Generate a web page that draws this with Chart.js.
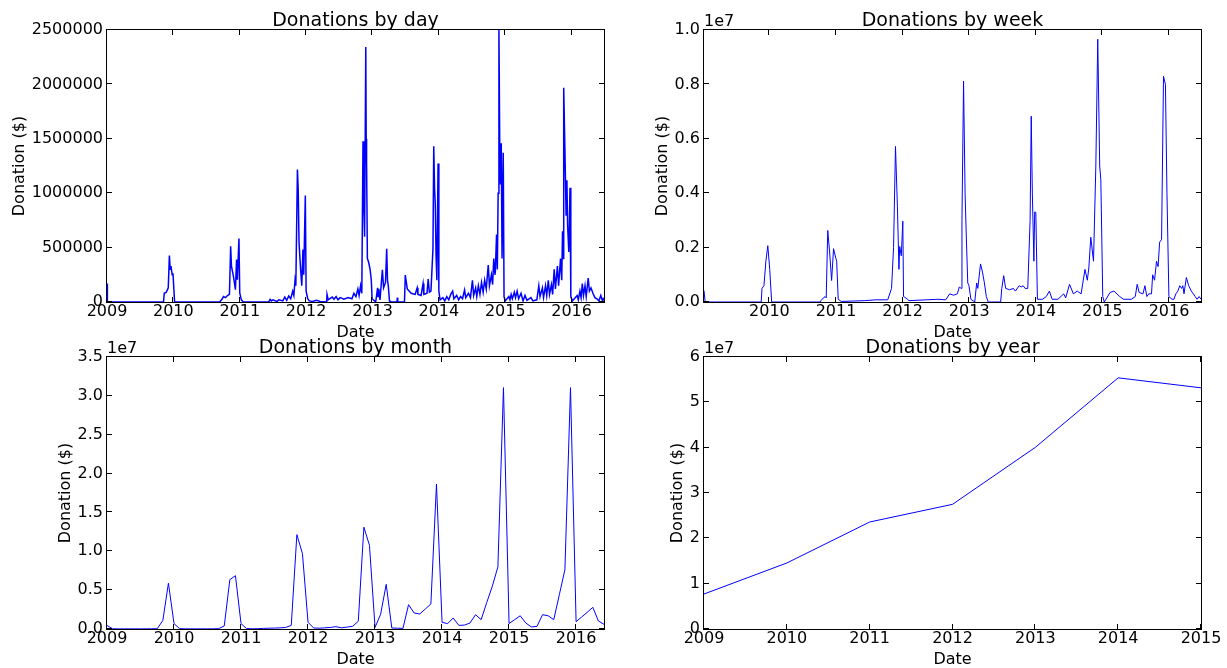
<!DOCTYPE html>
<html>
<head>
<meta charset="utf-8">
<script src="https://cdn.jsdelivr.net/npm/chart.js@4.4.1/dist/chart.umd.min.js"></script>
<style>
  html, body { margin: 0; padding: 0; background: #fff; }
  #wrap { position: relative; width: 1227px; height: 668px; }
  #wrap canvas { position: absolute; left: 0; top: 0; }
</style>
</head>
<body>
<div id="wrap">
  <canvas id="dayChart" width="1227" height="668"></canvas>
  <canvas id="weekChart" width="1227" height="668"></canvas>
  <canvas id="monthChart" width="1227" height="668"></canvas>
  <canvas id="yearChart" width="1227" height="668"></canvas>
</div>
<script>
// Daily donations: [decimal year, dollars]
const dayPoints = [
  [2009.000,170000],[2009.006,0],[2009.851,0],[2009.863,80000],[2009.893,90000],[2009.923,130000],[2009.940,426000],
  [2009.952,300000],[2009.964,330000],[2009.982,250000],[2009.994,265000],[2010.018,0],
  [2010.696,0],[2010.726,20000],[2010.756,50000],[2010.786,40000],[2010.815,60000],[2010.845,70000],[2010.863,512000],
  [2010.875,330000],[2010.905,236000],[2010.935,113000],[2010.952,390000],[2010.964,205000],[2010.988,583000],
  [2011.000,83000],[2011.024,20000],[2011.054,0],
  [2011.430,0],[2011.440,5000],[2011.458,25000],[2011.476,10000],[2011.500,20000],[2011.560,5000],[2011.589,20000],
  [2011.649,10000],[2011.679,45000],[2011.708,15000],[2011.738,55000],[2011.768,30000],[2011.798,100000],[2011.815,60000],
  [2011.833,200000],[2011.845,150000],
  [2011.869,1218000],[2011.881,1030000],[2011.893,549000],[2011.917,297000],[2011.935,150000],[2011.952,482000],
  [2011.964,250000],[2011.988,978000],[2012.000,100000],[2012.024,30000],[2012.048,10000],
  [2012.095,5000],[2012.155,15000],[2012.214,5000],[2012.310,0],[2012.315,70000],[2012.333,20000],[2012.393,45000],
  [2012.420,25000],[2012.452,50000],[2012.480,20000],[2012.512,40000],[2012.571,25000],[2012.631,40000],[2012.690,30000],
  [2012.720,80000],[2012.750,50000],[2012.780,120000],[2012.798,60000],[2012.821,150000],[2012.839,80000],
  [2012.857,1478000],[2012.869,900000],[2012.881,600000],[2012.899,2343000],[2012.905,1500000],[2012.911,1288000],
  [2012.923,400000],[2012.940,370000],[2012.964,300000],[2012.982,200000],[2012.994,30000],
  [2013.048,0],[2013.077,130000],[2013.083,50000],[2013.095,120000],[2013.113,20000],[2013.149,297000],[2013.167,130000],
  [2013.196,180000],[2013.214,490000],[2013.226,200000],[2013.238,150000],[2013.256,10000],[2013.286,0],[2013.369,0],
  [2013.375,40000],[2013.381,0],[2013.482,0],
  [2013.494,248000],[2013.524,120000],[2013.583,80000],[2013.643,70000],[2013.673,130000],[2013.685,70000],[2013.732,60000],
  [2013.762,170000],[2013.774,70000],[2013.821,80000],[2013.839,210000],[2013.857,90000],[2013.881,100000],[2013.911,490000],
  [2013.923,1432000],[2013.935,1050000],[2013.946,900000],[2013.958,420000],[2013.970,200000],[2013.988,1273000],
  [2014.000,100000],[2014.018,20000],
  [2014.060,40000],[2014.089,10000],[2014.119,50000],[2014.149,20000],[2014.179,70000],[2014.208,100000],[2014.226,30000],
  [2014.268,60000],[2014.298,20000],[2014.327,50000],[2014.357,30000],[2014.387,110000],[2014.405,40000],[2014.446,80000],
  [2014.476,40000],[2014.506,200000],[2014.524,60000],[2014.554,130000],[2014.571,50000],[2014.595,150000],[2014.619,70000],
  [2014.643,180000],[2014.667,90000],[2014.690,200000],[2014.714,120000],[2014.744,340000],[2014.762,150000],[2014.792,250000],
  [2014.810,160000],[2014.827,400000],[2014.845,250000],[2014.851,280000],[2014.869,620000],[2014.881,300000],[2014.893,1000000],
  [2014.905,2500000],[2014.917,1450000],[2014.929,1080000],[2014.940,1460000],[2014.952,400000],[2014.970,1371000],
  [2014.982,50000],[2015.000,10000],
  [2015.054,50000],[2015.071,20000],[2015.089,70000],[2015.107,30000],[2015.137,90000],[2015.155,40000],[2015.179,100000],
  [2015.202,30000],[2015.238,80000],[2015.268,10000],[2015.298,60000],[2015.327,15000],[2015.387,40000],[2015.417,10000],
  [2015.476,20000],[2015.506,150000],[2015.524,50000],[2015.560,130000],[2015.577,40000],[2015.607,150000],[2015.625,60000],
  [2015.649,200000],[2015.667,70000],[2015.696,160000],[2015.714,70000],[2015.738,300000],[2015.756,120000],[2015.786,330000],
  [2015.804,150000],[2015.833,400000],[2015.851,200000],[2015.863,650000],[2015.875,400000],[2015.881,1969000],
  [2015.899,1400000],[2015.917,800000],[2015.929,1120000],[2015.940,700000],[2015.958,460000],[2015.976,1050000],
  [2015.988,50000],[2016.012,10000],
  [2016.083,60000],[2016.101,20000],[2016.125,100000],[2016.143,40000],[2016.161,170000],[2016.179,60000],[2016.202,150000],
  [2016.220,50000],[2016.250,220000],[2016.268,100000],[2016.292,130000],[2016.321,80000],[2016.351,40000],[2016.381,30000],
  [2016.411,10000],[2016.440,60000],[2016.464,10000],[2016.476,30000],[2016.488,15000]
];

// Weekly donations: [decimal year, dollars]
const weekPoints = [
  [2009.018,420000],[2009.035,0],[2009.877,0],[2009.889,500000],[2009.918,600000],[2009.947,1500000],[2009.976,2070000],
  [2010.005,1200000],[2010.034,0],[2010.760,0],[2010.789,100000],[2010.836,200000],[2010.853,150000],[2010.876,2630000],
  [2010.905,1800000],[2010.934,790000],[2010.963,1960000],[2010.998,1600000],[2011.010,1500000],[2011.033,100000],
  [2011.080,20000],[2011.428,50000],[2011.602,80000],[2011.776,80000],[2011.834,500000],[2011.864,2000000],
  [2011.893,5720000],[2011.922,3500000],[2011.945,1200000],[2011.956,2040000],[2011.980,1700000],[2012.003,2970000],
  [2012.014,200000],[2012.049,150000],[2012.096,50000],[2012.357,80000],[2012.531,100000],[2012.648,80000],
  [2012.706,300000],[2012.764,250000],[2012.822,300000],[2012.851,550000],[2012.880,500000],[2012.891,3000000],
  [2012.915,8120000],[2012.938,4000000],[2012.955,2500000],[2012.978,700000],[2012.996,600000],[2013.025,100000],
  [2013.083,0],[2013.112,700000],[2013.129,500000],[2013.170,1400000],[2013.199,1100000],[2013.228,700000],
  [2013.257,200000],[2013.286,0],[2013.472,0],[2013.489,500000],[2013.518,970000],[2013.547,500000],[2013.606,450000],
  [2013.664,500000],[2013.693,400000],[2013.751,600000],[2013.780,550000],[2013.809,600000],[2013.838,500000],
  [2013.879,500000],[2013.914,3000000],[2013.931,6830000],[2013.948,4000000],[2013.971,1500000],[2013.983,3310000],
  [2014.000,3300000],[2014.024,100000],[2014.099,100000],[2014.157,200000],[2014.204,400000],[2014.245,100000],
  [2014.332,100000],[2014.419,300000],[2014.448,150000],[2014.506,650000],[2014.564,300000],[2014.622,400000],
  [2014.680,300000],[2014.738,1200000],[2014.773,800000],[2014.796,1250000],[2014.825,2380000],[2014.866,1500000],
  [2014.901,5000000],[2014.930,9660000],[2014.959,5000000],[2014.976,4500000],[2015.005,200000],[2015.028,0],
  [2015.115,350000],[2015.173,400000],[2015.260,200000],[2015.318,100000],[2015.435,100000],[2015.493,200000],
  [2015.522,650000],[2015.551,350000],[2015.609,300000],[2015.638,600000],[2015.667,200000],[2015.696,300000],
  [2015.737,300000],[2015.754,1000000],[2015.783,800000],[2015.812,1500000],[2015.836,1300000],[2015.859,2200000],
  [2015.888,2300000],[2015.917,8300000],[2015.946,8000000],[2015.969,4000000],[2015.998,200000],[2016.045,100000],
  [2016.074,100000],[2016.103,300000],[2016.132,400000],[2016.161,600000],[2016.190,500000],[2016.207,600000],
  [2016.225,300000],[2016.260,900000],[2016.295,600000],[2016.335,400000],[2016.393,200000],[2016.422,100000],
  [2016.451,200000],[2016.480,100000]
];

// Monthly donations (month starts, Jan 2009 .. Jun 2016), dollars
const monthStartYear = 2009;
const monthValues = [
  450000, 30000, 20000, 20000, 20000, 20000, 20000, 20000, 30000, 40000, 1100000, 5900000,
  700000, 50000, 20000, 20000, 20000, 20000, 20000, 20000, 50000, 400000, 6350000, 6860000,
  700000, 50000, 30000, 40000, 80000, 100000, 120000, 150000, 200000, 470000, 12140000, 9700000,
  860000, 130000, 100000, 150000, 200000, 300000, 150000, 250000, 350000, 1000000, 13100000, 10770000,
  200000, 1900000, 5750000, 130000, 100000, 80000, 3130000, 2060000, 1930000, 2570000, 3220000, 18660000,
  860000, 690000, 1420000, 470000, 500000, 770000, 1840000, 1200000, 3400000, 5500000, 8000000, 31060000,
  700000, 1200000, 1700000, 770000, 260000, 340000, 1840000, 1700000, 1200000, 4400000, 7640000, 31060000,
  940000, 1550000, 2150000, 2790000, 1030000, 600000
];

// Yearly donations
const years = [2009, 2010, 2011, 2012, 2013, 2014, 2015];
const yearValues = [7720000, 14560000, 23600000, 27500000, 40070000, 55400000, 53200000];

// Y tick setups
const dayYMax = 2500000, dayYStep = 500000;
const weekYMax = 1e7, weekYStep = 2e6;
const monthYMax = 3.5e7, monthYStep = 5e6;
const yearYMax = 6e7, yearYStep = 1e7;

Chart.defaults.font.family = '"DejaVu Sans", sans-serif';
Chart.defaults.font.size = 16;
Chart.defaults.color = '#000';

// matplotlib-classic look: frame, inward ticks on every side, title, axis labels, offset text
const mplAxes = {
  id: 'mplAxes',
  afterDraw(chart, args, opts) {
    const { ctx, chartArea: a, scales } = chart;
    ctx.save();
    ctx.strokeStyle = '#000';
    ctx.lineWidth = 1;
    ctx.strokeRect(a.left - 0.5, a.top - 0.5, a.right - a.left + 1, a.bottom - a.top + 1);
    const tick = 5;
    ctx.beginPath();
    scales.x.ticks.forEach(t => {
      const px = Math.round(scales.x.getPixelForValue(t.value)) - 0.5;
      ctx.moveTo(px, a.bottom); ctx.lineTo(px, a.bottom - tick);
      ctx.moveTo(px, a.top); ctx.lineTo(px, a.top + tick);
    });
    scales.y.ticks.forEach(t => {
      const py = Math.round(scales.y.getPixelForValue(t.value)) - 0.5;
      ctx.moveTo(a.left, py); ctx.lineTo(a.left + tick, py);
      ctx.moveTo(a.right, py); ctx.lineTo(a.right - tick, py);
    });
    ctx.stroke();

    const cx = (a.left + a.right) / 2;
    ctx.fillStyle = '#000';
    ctx.textAlign = 'center';
    ctx.textBaseline = 'alphabetic';
    ctx.font = '19px "DejaVu Sans"';
    ctx.fillText(opts.title, cx, a.top - 4);

    ctx.font = '16px "DejaVu Sans"';
    ctx.fillText('Date', cx, a.bottom + 35);

    if (opts.offset) {
      ctx.textAlign = 'left';
      ctx.fillText(opts.offset, a.left, a.top - 4);
    }

    const maxW = Math.max(...scales.y.ticks.map(t => ctx.measureText(t.label).width));
    ctx.translate(a.left - 4 - maxW - 12, (a.top + a.bottom) / 2);
    ctx.rotate(-Math.PI / 2);
    ctx.textAlign = 'center';
    ctx.textBaseline = 'middle';
    ctx.fillText('Donation ($)', 0, 0);
    ctx.restore();
  }
};

function makeChart(id, points, area, y, plot, lineWidth) {
  const W = 1227, H = 668;
  return new Chart(document.getElementById(id), {
    type: 'line',
    data: {
      datasets: [{
        data: points.map(p => ({ x: p[0], y: p[1] })),
        borderColor: '#0000ff',
        borderWidth: lineWidth || 1,
        pointRadius: 0,
        tension: 0,
        fill: false
      }]
    },
    options: {
      responsive: false,
      animation: false,
      events: [],
      layout: { padding: { top: area.top, right: W - area.right, left: 0, bottom: 0 } },
      plugins: {
        legend: { display: false },
        tooltip: { enabled: false },
        mplAxes: plot
      },
      scales: {
        x: {
          type: 'linear',
          min: points[0][0],
          max: points[points.length - 1][0],
          grid: { display: false, drawTicks: false },
          border: { display: false },
          ticks: {
            stepSize: 1,
            includeBounds: false,
            autoSkip: false,
            maxRotation: 0,
            padding: 0,
            callback: v => String(v)
          },
          afterFit: s => { s.height = H - area.bottom; }
        },
        y: {
          min: 0,
          max: y.max,
          grid: { display: false, drawTicks: false },
          border: { display: false },
          ticks: { stepSize: y.step, padding: 4, callback: y.fmt },
          afterFit: s => { s.width = area.left; }
        }
      }
    },
    plugins: [mplAxes]
  });
}

const e7 = d => v => (v / 1e7).toFixed(d);

// the daily series is dense, so its trace reads heavier than the others
makeChart('dayChart', dayPoints,
  { left: 107, top: 30, right: 604, bottom: 302 },
  { max: dayYMax, step: dayYStep, fmt: v => String(v) },
  { title: 'Donations by day' }, 1.5);

makeChart('weekChart', weekPoints,
  { left: 704, top: 30, right: 1201, bottom: 302 },
  { max: weekYMax, step: weekYStep, fmt: e7(1) },
  { title: 'Donations by week', offset: '1e7' });

makeChart('monthChart', monthValues.map((v, i) => [monthStartYear + i / 12, v]),
  { left: 107, top: 357, right: 604, bottom: 629 },
  { max: monthYMax, step: monthYStep, fmt: e7(1) },
  { title: 'Donations by month', offset: '1e7' });

makeChart('yearChart', years.map((yr, i) => [yr, yearValues[i]]),
  { left: 704, top: 357, right: 1201, bottom: 629 },
  { max: yearYMax, step: yearYStep, fmt: e7(0) },
  { title: 'Donations by year', offset: '1e7' });
</script>
</body>
</html>
